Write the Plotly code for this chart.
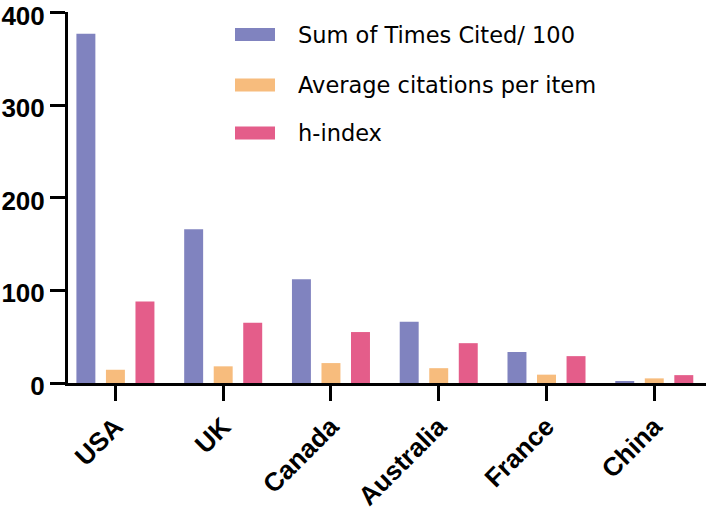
import plotly.graph_objects as go

countries = ["USA", "UK", "Canada", "Australia", "France", "China"]
series_names = ["Sum of Times Cited/ 100", "Average citations per item", "h-index"]
sum_cited_100 = [377, 166, 112, 66, 33.5, 1.5]
avg_citations = [14.3, 18, 21.5, 16, 9, 5]
h_index = [88, 65, 55, 43, 29, 8.5]
colors = ["#8083BF", "#F7BC7D", "#E45D8A"]
y_ticks = [0, 100, 200, 300, 400]

W, H = 708, 512
L, R, T, B = 68, 2, 12, 129
pw, ph = W - L - R, H - T - B

fig = go.Figure()
for name, vals, col in zip(series_names, [sum_cited_100, avg_citations, h_index], colors):
    fig.add_trace(go.Bar(x=countries, y=vals, name=name,
                         marker=dict(color=col, line=dict(width=0)),
                         showlegend=False))

# custom legend (wide swatches as in reference)
def px2paper_x(px):
    return (px - L) / pw

def px2paper_y(py):
    return (H - B - py) / ph

row_centers = [34.5, 85, 133]
shapes = []
annotations = []
for name, col, cy in zip(series_names, colors, row_centers):
    shapes.append(dict(type="rect", xref="paper", yref="paper",
                       x0=px2paper_x(235), x1=px2paper_x(275),
                       y0=px2paper_y(cy + 6.5), y1=px2paper_y(cy - 6.5),
                       fillcolor=col, line=dict(width=0)))
    annotations.append(dict(xref="paper", yref="paper", x=px2paper_x(296), y=px2paper_y(cy),
                            text=name, showarrow=False, xanchor="left", yanchor="middle",
                            font=dict(family="DejaVu Sans", size=22.5, color="black")))

tick_font = dict(family="Liberation Sans", size=26, color="black", weight="bold")

fig.update_layout(
    width=W, height=H,
    margin=dict(l=L, r=R, t=T, b=B),
    paper_bgcolor="white", plot_bgcolor="white",
    barmode="group", bargap=0.178, bargroupgap=0.358,
    shapes=shapes, annotations=annotations,
    xaxis=dict(range=[-0.44, 5.48], showline=True, linewidth=3, linecolor="black",
               ticks="outside", ticklen=15, tickwidth=3, tickcolor="black",
               tickangle=-45, showgrid=False, zeroline=False, automargin=False,
               ticklabeloverflow="allow", tickfont=tick_font),
    yaxis=dict(range=[0, 400.5], tickvals=y_ticks, showline=True, linewidth=3, linecolor="black",
               ticks="outside", ticklen=15, tickwidth=3, tickcolor="black",
               showgrid=False, zeroline=False, automargin=False,
               ticklabelshift=3, ticklabeloverflow="allow", tickfont=tick_font),
)

fig.write_html("out.html", config={"displayModeBar": False},
               post_script="document.body.style.margin='0';")
